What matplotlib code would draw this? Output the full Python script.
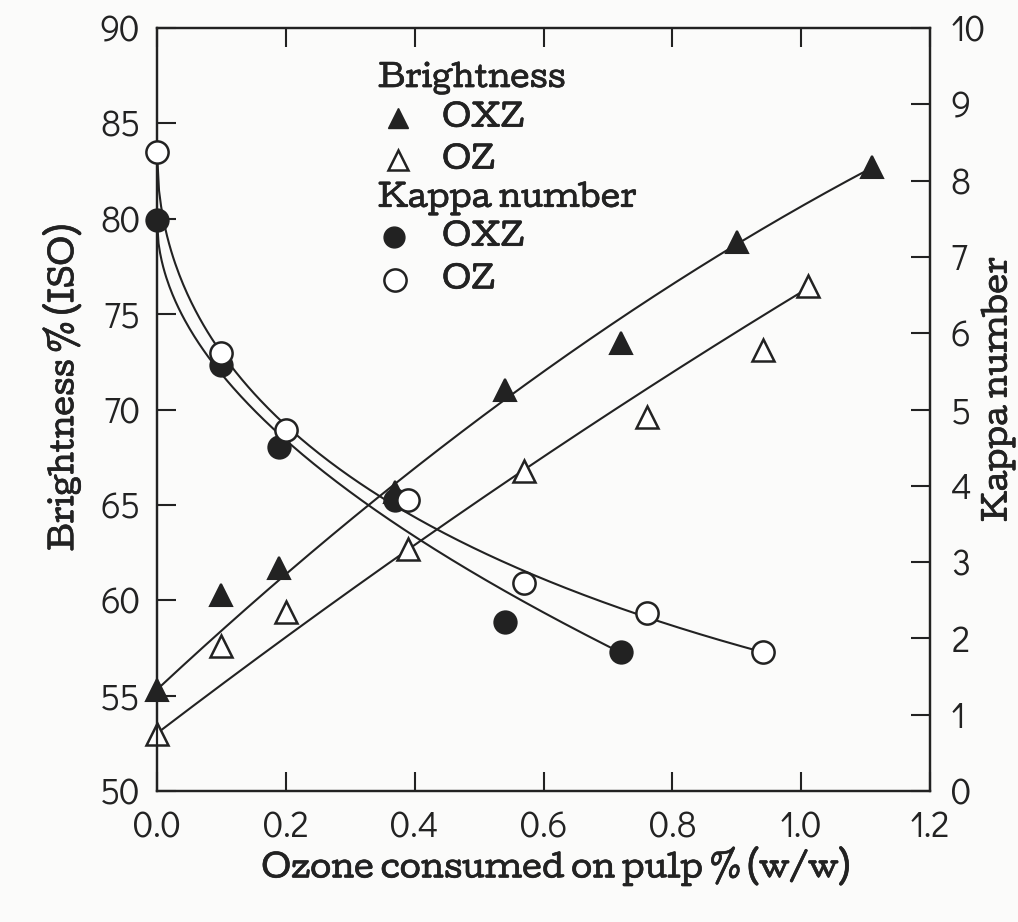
import numpy as np
import matplotlib
matplotlib.use("Agg")
import matplotlib.pyplot as plt
from matplotlib import font_manager as fm
import matplotlib.patheffects as pe

# ---------------- data ----------------
bright_oxz_x = [0.00, 0.10, 0.19, 0.37, 0.54, 0.72, 0.90, 1.11]
bright_oxz_y = [55.3, 60.3, 61.7, 65.7, 71.0, 73.5, 78.8, 82.7]

bright_oz_x = [0.00, 0.10, 0.20, 0.39, 0.57, 0.76, 0.94, 1.01]
bright_oz_y = [53.0, 57.6, 59.4, 62.7, 66.8, 69.6, 73.1, 76.5]

kappa_oxz_x = [0.00, 0.10, 0.19, 0.37, 0.54, 0.72]
kappa_oxz_y = [7.48, 5.58, 4.51, 3.81, 2.21, 1.82]

kappa_oz_x = [0.00, 0.10, 0.20, 0.39, 0.57, 0.76, 0.94]
kappa_oz_y = [8.37, 5.74, 4.73, 3.81, 2.72, 2.33, 1.82]

x_ticks = [0.0, 0.2, 0.4, 0.6, 0.8, 1.0, 1.2]
x_ticklabels = ["0.0", "0.2", "0.4", "0.6", "0.8", "1.0", "1.2"]
left_ticks = [50, 55, 60, 65, 70, 75, 80, 85, 90]
right_ticks = [0, 1, 2, 3, 4, 5, 6, 7, 8, 9, 10]

x_label = "Ozone consumed on pulp % (w/w)"
left_label = "Brightness % (ISO)"
right_label = "Kappa number"

# ---------------- fonts ----------------
avail = {f.name for f in fm.fontManager.ttflist}
def pick(*names):
    for n in names:
        if n in avail:
            return n
    return "DejaVu Sans"
tick_font = pick("Didact Gothic", "Questrial", "Liberation Sans")
serif_font = pick("Cutive", "Kameron", "DejaVu Serif")

INK = "#222222"
plt.rcParams["axes.linewidth"] = 1.6
plt.rcParams["axes.edgecolor"] = INK

fig = plt.figure(figsize=(10.18, 9.22), dpi=100)
fig.patch.set_facecolor("#fbfbfa")
ax = fig.add_axes([157 / 1018, 1 - 791 / 922, 773 / 1018, 763 / 922])
ax.set_facecolor("#fbfbfa")
ax2 = ax.twinx()

ax.set_xlim(0, 1.2)
ax.set_ylim(50, 90)
ax2.set_ylim(0, 10)

lw = 1.5
ms = 16

# brightness fitted curves (weighted quadratic fit of the data, anchored at ends)
for xs, ys in [(bright_oxz_x, bright_oxz_y), (bright_oz_x, bright_oz_y)]:
    w = np.ones(len(xs)); w[0] = 10; w[-1] = 4
    c = np.polyfit(xs, ys, 2, w=w)
    xx = np.linspace(0, max(xs) - 0.005, 200)
    ax.plot(xx, np.polyval(c, xx), color=INK, lw=lw, zorder=2)

# kappa fitted curves (polynomial in sqrt(x))
for xs, ys in [(kappa_oxz_x, kappa_oxz_y), (kappa_oz_x, kappa_oz_y)]:
    s = np.sqrt(np.array(xs))
    w = np.ones(len(xs)); w[0] = 5; w[-1] = 5
    c = np.polyfit(s, ys, 2, w=w)
    xx = np.linspace(0, max(xs), 300)
    ax2.plot(xx, np.polyval(c, np.sqrt(xx)), color=INK, lw=lw, zorder=2)

ax.plot(bright_oxz_x, bright_oxz_y, ls="none", marker="^", ms=ms, mfc=INK, mec=INK, mew=1.5, zorder=3, clip_on=False)
ax.plot(bright_oz_x, bright_oz_y, ls="none", marker="^", ms=ms, mfc="white", mec=INK, mew=1.8, zorder=3, clip_on=False)
ax2.plot(kappa_oxz_x, kappa_oxz_y, ls="none", marker="o", ms=ms, mfc=INK, mec=INK, mew=1.5, zorder=3, clip_on=False)
ax2.plot(kappa_oz_x, kappa_oz_y, ls="none", marker="o", ms=ms, mfc="white", mec=INK, mew=1.8, zorder=3, clip_on=False)

# ticks
TS = 26
ax.set_xticks(x_ticks)
ax.set_xticklabels(x_ticklabels)
ax.set_yticks(left_ticks)
ax2.set_yticks(right_ticks)
ax.tick_params(axis="both", direction="in", length=14, width=1.5, color=INK,
               labelsize=TS, labelcolor=INK, top=True)
ax.tick_params(axis="y", pad=12)
ax.tick_params(axis="x", pad=14)
ax.tick_params(axis="x", which="both", labeltop=False)
ax2.tick_params(axis="y", direction="in", length=14, width=1.5, color=INK,
                labelsize=TS, labelcolor=INK, pad=15)
for lab in ax.get_xticklabels() + ax.get_yticklabels() + ax2.get_yticklabels():
    lab.set_fontfamily(tick_font)
    lab.set_fontsize(TS)

bold = [pe.withStroke(linewidth=0.45, foreground=INK)]
tr = ax.transAxes
lab_kw = dict(transform=tr, fontfamily=serif_font, fontsize=22, color=INK, ha="center", va="center",
              path_effects=bold)
ax.text(0.515, -0.098, x_label, **lab_kw)
ax.text(-0.123, 0.528, left_label, rotation=90, **lab_kw)
ax.text(1.088, 0.526, right_label, rotation=90, **lab_kw)

# legend as text block
tkw = dict(transform=tr, fontfamily=serif_font, fontsize=21.5, color=INK, va="center", ha="left",
           path_effects=bold)
ax.text(0.286, 0.934, "Brightness", **tkw)
ax.plot([0.312], [0.882], transform=tr, marker="^", ms=15, mfc=INK, mec=INK, ls="none")
ax.text(0.369, 0.882, "OXZ", **tkw)
ax.plot([0.312], [0.827], transform=tr, marker="^", ms=14, mfc="white", mec=INK, mew=1.8, ls="none")
ax.text(0.369, 0.827, "OZ", **tkw)
ax.text(0.286, 0.777, "Kappa number", **tkw)
ax.plot([0.306], [0.726], transform=tr, marker="o", ms=15, mfc=INK, mec=INK, ls="none")
ax.text(0.369, 0.726, "OXZ", **tkw)
ax.plot([0.308], [0.670], transform=tr, marker="o", ms=16, mfc="white", mec=INK, mew=1.8, ls="none")
ax.text(0.369, 0.670, "OZ", **tkw)

fig.savefig("out.png", dpi=100, facecolor=fig.get_facecolor())
